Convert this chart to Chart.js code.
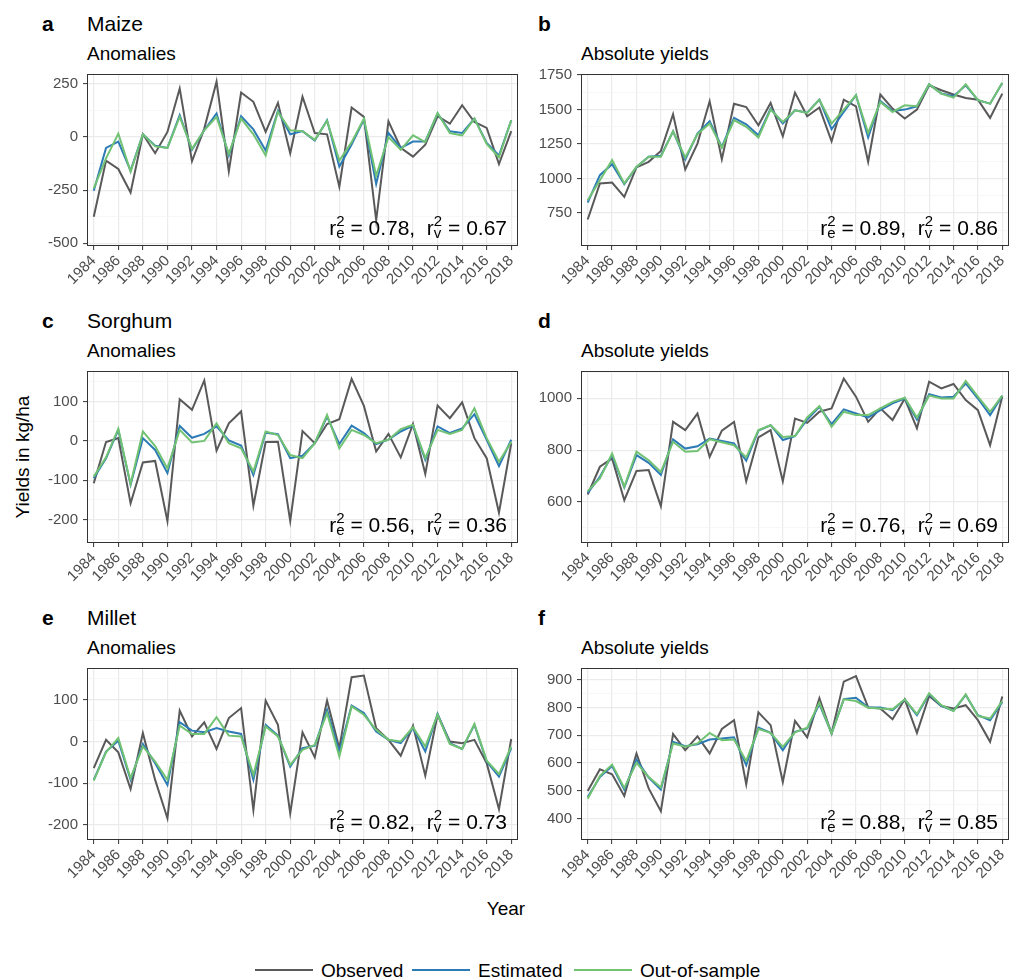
<!DOCTYPE html>
<html>
<head>
<meta charset="utf-8">
<title>Yields</title>
<script src="https://cdn.jsdelivr.net/npm/chart.js@4.4.1/dist/chart.umd.min.js"></script>
<style>
  html, body { margin: 0; padding: 0; background: #fff; }
  #page { position: relative; width: 1013px; height: 979px; overflow: hidden;
          font-family: "Liberation Sans", Arial, sans-serif; color: #000; }
  #page canvas { position: absolute; }
  .txt { position: absolute; white-space: nowrap; line-height: 1; }
  .tag { font-size: 21px; font-weight: bold; }
  .crop { font-size: 21px; }
  .sub { font-size: 19px; }
  .axis { font-size: 19px; }
  .leg { font-size: 19px; }
  .key { position: absolute; height: 2px; }
</style>
</head>
<body>
<div id="page">
  <div class="txt tag" style="left:42px;top:13px">a</div>
  <div class="txt crop" style="left:87px;top:13px">Maize</div>
  <div class="txt sub" style="left:87px;top:44px">Anomalies</div>
  <div class="txt tag" style="left:538px;top:13px">b</div>
  <div class="txt sub" style="left:581px;top:44px">Absolute yields</div>

  <div class="txt tag" style="left:42px;top:310px">c</div>
  <div class="txt crop" style="left:87px;top:310px">Sorghum</div>
  <div class="txt sub" style="left:87px;top:341px">Anomalies</div>
  <div class="txt tag" style="left:538px;top:310px">d</div>
  <div class="txt sub" style="left:581px;top:341px">Absolute yields</div>

  <div class="txt tag" style="left:42px;top:607px">e</div>
  <div class="txt crop" style="left:87px;top:607px">Millet</div>
  <div class="txt sub" style="left:87px;top:638px">Anomalies</div>
  <div class="txt tag" style="left:538px;top:607px">f</div>
  <div class="txt sub" style="left:581px;top:638px">Absolute yields</div>

  <div class="txt axis" style="left:22px;top:457px;transform:translate(-50%,-50%) rotate(-90deg)">Yields in kg/ha</div>
  <div class="txt axis" style="left:506px;top:899px;transform:translateX(-50%)">Year</div>

  <div class="key" style="left:255px;top:969px;width:58px;background:#595959"></div>
  <div class="txt leg" style="left:321px;top:961px">Observed</div>
  <div class="key" style="left:412px;top:969px;width:58px;background:#2c7bb6"></div>
  <div class="txt leg" style="left:478px;top:961px">Estimated</div>
  <div class="key" style="left:574px;top:969px;width:58px;background:#72c273"></div>
  <div class="txt leg" style="left:640px;top:961px">Out-of-sample</div>
</div>
<script>
// ---- data ----
const years = [1984, 1985, 1986, 1987, 1988, 1989, 1990, 1991, 1992, 1993, 1994, 1995,
  1996, 1997, 1998, 1999, 2000, 2001, 2002, 2003, 2004, 2005, 2006, 2007, 2008, 2009,
  2010, 2011, 2012, 2013, 2014, 2015, 2016, 2017, 2018];
const yearTicks = [1984, 1986, 1988, 1990, 1992, 1994, 1996, 1998, 2000, 2002, 2004,
  2006, 2008, 2010, 2012, 2014, 2016, 2018];
const seriesNames = ["Observed", "Estimated", "Out-of-sample"];

const maizeAnomObserved = [-375, -111, -150, -261, 13, -76, 24, 229, -114, 40, 261, -161, 210, 166, 24, 161, -76, 190, 19, 13, -234, 139, 95, -392, 74, -51, -92, -36, 98, 63, 150, 71, 43, -127, 28];
const maizeAnomEstimated = [-253, -51, -21, -158, 13, -41, -51, 103, -60, 32, 111, -87, 98, 36, -63, 123, 13, 28, -16, 79, -139, -35, 82, -221, 19, -51, -21, -21, 111, 27, 19, 87, -28, -87, 79];
const maizeAnomOutOfSample = [-242, -100, 16, -163, 13, -44, -51, 95, -55, 32, 95, -79, 87, 13, -87, 119, 32, 28, -13, 76, -111, -24, 87, -182, 0, -60, 8, -24, 114, 19, 8, 87, -32, -95, 79];

const maizeAbsObserved = [703, 964, 971, 867, 1080, 1121, 1200, 1465, 1065, 1253, 1559, 1140, 1542, 1518, 1386, 1547, 1306, 1622, 1451, 1514, 1270, 1571, 1523, 1121, 1608, 1506, 1434, 1499, 1675, 1639, 1608, 1583, 1571, 1439, 1615];
const maizeAbsEstimated = [826, 1024, 1104, 959, 1084, 1157, 1164, 1342, 1137, 1325, 1415, 1229, 1439, 1393, 1313, 1506, 1398, 1494, 1477, 1571, 1357, 1482, 1603, 1297, 1562, 1489, 1499, 1523, 1682, 1615, 1596, 1675, 1567, 1542, 1692];
const maizeAbsOutOfSample = [843, 988, 1133, 964, 1084, 1157, 1157, 1342, 1152, 1321, 1398, 1224, 1422, 1374, 1297, 1499, 1410, 1494, 1475, 1571, 1398, 1499, 1603, 1330, 1555, 1482, 1530, 1523, 1682, 1615, 1586, 1682, 1567, 1542, 1694];

const sorghumAnomObserved = [-108, -3, 7, -159, -55, -51, -204, 106, 79, 154, -25, 45, 75, -165, -3, -2, -204, 25, -6, 43, 55, 158, 89, -27, 18, -42, 43, -84, 90, 58, 98, 7, -44, -183, -6];
const sorghumAnomEstimated = [-95, -44, 28, -112, 7, -23, -82, 38, 8, 18, 37, 1, -12, -87, 21, 17, -44, -38, -6, 62, -8, 39, 20, -8, 3, 24, 39, -48, 37, 20, 32, 68, 3, -64, 3];
const sorghumAnomOutOfSample = [-91, -42, 31, -110, 24, -13, -70, 28, -4, 0, 45, -6, -19, -78, 24, 15, -36, -44, -6, 66, -19, 28, 15, -6, 3, 30, 41, -44, 28, 18, 28, 83, 7, -53, -2];

const sorghumAbsObserved = [629, 736, 768, 607, 720, 723, 584, 909, 877, 941, 774, 875, 909, 680, 849, 877, 680, 922, 905, 948, 961, 1076, 1006, 909, 961, 916, 999, 884, 1064, 1038, 1055, 993, 954, 819, 1008];
const sorghumAbsEstimated = [635, 697, 781, 656, 781, 751, 704, 841, 806, 815, 845, 835, 826, 759, 875, 896, 839, 854, 918, 967, 900, 957, 941, 926, 954, 980, 999, 918, 1016, 1003, 1006, 1057, 999, 935, 1010];
const sorghumAbsOutOfSample = [642, 691, 787, 659, 794, 761, 716, 832, 794, 797, 842, 830, 819, 772, 877, 896, 851, 854, 926, 970, 890, 948, 935, 935, 961, 986, 1002, 926, 1010, 999, 999, 1067, 1006, 948, 1010];

const milletAnomObserved = [-64, 4, -26, -114, 20, -92, -184, 74, 12, 46, -18, 56, 80, -164, 98, 40, -172, 22, -38, 98, -16, 154, 158, 32, 4, -34, 38, -82, 64, 0, -4, 4, -52, -162, 6];
const milletAnomEstimated = [-92, -24, 2, -92, -6, -52, -104, 46, 26, 22, 32, 24, 18, -92, 40, 14, -60, -16, -10, 76, -24, 86, 68, 24, 4, -4, 32, -24, 66, -4, -18, 40, -48, -84, -16];
const milletAnomOutOfSample = [-94, -26, 8, -88, -12, -48, -92, 38, 18, 18, 58, 14, 12, -80, 36, 12, -56, -20, -8, 68, -36, 84, 64, 28, 4, 0, 34, -12, 64, -6, -18, 42, -46, -78, -12];

const milletAbsObserved = [499, 577, 559, 481, 634, 508, 426, 704, 646, 696, 634, 722, 754, 523, 782, 736, 531, 751, 692, 833, 706, 893, 913, 800, 796, 757, 829, 708, 841, 805, 796, 808, 754, 676, 839];
const milletAbsEstimated = [477, 549, 589, 504, 612, 547, 504, 676, 660, 667, 684, 688, 692, 592, 727, 708, 646, 712, 724, 812, 706, 830, 835, 800, 800, 790, 829, 772, 848, 805, 788, 845, 772, 754, 820];
const milletAbsOutOfSample = [471, 553, 594, 510, 600, 549, 511, 670, 658, 670, 708, 682, 684, 607, 722, 708, 658, 710, 727, 817, 706, 829, 823, 799, 796, 793, 829, 776, 851, 808, 787, 847, 769, 760, 823];

const maizeAnomTicks = [-500, -250, 0, 250];
const maizeAbsTicks = [750, 1000, 1250, 1500, 1750];
const sorghumAnomTicks = [-200, -100, 0, 100];
const sorghumAbsTicks = [600, 800, 1000];
const milletAnomTicks = [-200, -100, 0, 100];
const milletAbsTicks = [400, 500, 600, 700, 800, 900];

const r2Estimated = ["0.78", "0.89", "0.56", "0.76", "0.82", "0.88"];
const r2Validated = ["0.67", "0.86", "0.36", "0.69", "0.73", "0.85"];

// ---- layout / style ----
const seriesColors = ["#595959", "#2c7bb6", "#72c273"];
const COL_X = [87, 581], COL_W = [431, 428], ROW_Y = [74, 371, 668], PH = 172;
const Y_W = 60, X_H = 52, PAD_T = 16, PAD_R = 16;
const FONT = '"Liberation Sans", Arial, sans-serif';

Chart.defaults.font.family = FONT;

const panels = [
  { col: 0, row: 0, min: -513, max: 297, ticks: maizeAnomTicks, data: [maizeAnomObserved, maizeAnomEstimated, maizeAnomOutOfSample] },
  { col: 1, row: 0, min: 511, max: 1757, ticks: maizeAbsTicks, data: [maizeAbsObserved, maizeAbsEstimated, maizeAbsOutOfSample] },
  { col: 0, row: 1, min: -260, max: 178, ticks: sorghumAnomTicks, data: [sorghumAnomObserved, sorghumAnomEstimated, sorghumAnomOutOfSample] },
  { col: 1, row: 1, min: 442, max: 1105, ticks: sorghumAbsTicks, data: [sorghumAbsObserved, sorghumAbsEstimated, sorghumAbsOutOfSample] },
  { col: 0, row: 2, min: -236, max: 176, ticks: milletAnomTicks, data: [milletAnomObserved, milletAnomEstimated, milletAnomOutOfSample] },
  { col: 1, row: 2, min: 322, max: 942, ticks: milletAbsTicks, data: [milletAbsObserved, milletAbsEstimated, milletAbsOutOfSample] },
];

// frame round the panel + r2 note in the lower right corner
const panelFrame = {
  id: "panelFrame",
  afterDatasetsDraw(chart, args, opts) {
    const { ctx, chartArea: a } = chart;
    ctx.save();
    ctx.strokeStyle = "#333333";
    ctx.lineWidth = 1;
    ctx.strokeRect(Math.round(a.left) + 0.5, Math.round(a.top) + 0.5,
      Math.round(a.right - a.left) - 1, Math.round(a.bottom - a.top) - 1);

    const big = "21px " + FONT, small = "15px " + FONT;
    const parts = [
      { t: "r", f: big },
      { sup: "2", sub: "e" },
      { t: " = " + opts.e + ",  r", f: big },
      { sup: "2", sub: "v" },
      { t: " = " + opts.v, f: big },
    ];
    let total = 0;
    parts.forEach(p => {
      if (p.t) { ctx.font = p.f; p.w = ctx.measureText(p.t).width; }
      else { ctx.font = small; p.w = Math.max(ctx.measureText(p.sup).width, ctx.measureText(p.sub).width); }
      total += p.w;
    });
    let x = a.right - 11 - total;
    const base = a.bottom - 11;
    ctx.fillStyle = "#000";
    ctx.textBaseline = "alphabetic";
    ctx.textAlign = "left";
    parts.forEach(p => {
      if (p.t) { ctx.font = p.f; ctx.fillText(p.t, x, base); }
      else {
        ctx.font = small;
        ctx.fillText(p.sup, x, base - 9);
        ctx.fillText(p.sub, x, base + 3);
      }
      x += p.w;
    });
    ctx.restore();
  }
};

const page = document.getElementById("page");

panels.forEach((p, idx) => {
  const left = COL_X[p.col], top = ROW_Y[p.row], w = COL_W[p.col];
  const cv = document.createElement("canvas");
  cv.width = Y_W + w + PAD_R;
  cv.height = PAD_T + PH + X_H;
  cv.style.left = (left - Y_W) + "px";
  cv.style.top = (top - PAD_T) + "px";
  page.appendChild(cv);

  const majors = p.ticks;
  const step = majors[1] - majors[0];
  const ext = [majors[0] - step, ...majors, majors[majors.length - 1] + step];
  const minors = ext.slice(0, -1).map(v => v + step / 2).filter(v => v > p.min && v < p.max);
  const allTicks = [...majors, ...minors].sort((m, n) => m - n);
  const isMajor = v => majors.includes(v);

  new Chart(cv, {
    type: "line",
    data: {
      datasets: p.data.map((vals, i) => ({
        label: seriesNames[i],
        data: years.map((yr, k) => ({ x: yr, y: vals[k] })),
        borderColor: seriesColors[i],
        borderWidth: 2,
        pointRadius: 0,
        tension: 0,
        fill: false,
        order: 3 - i,
      })),
    },
    options: {
      responsive: false,
      animation: false,
      devicePixelRatio: 1,
      layout: { padding: { top: PAD_T, right: PAD_R, left: 0, bottom: 0 } },
      plugins: {
        legend: { display: false },
        tooltip: { enabled: false },
        panelFrame: { e: r2Estimated[idx], v: r2Validated[idx] },
      },
      scales: {
        x: {
          type: "linear",
          min: 1983.45,
          max: 2018.55,
          afterBuildTicks: s => { s.ticks = yearTicks.map(v => ({ value: v })); },
          afterFit: s => { s.height = X_H; },
          border: { display: false },
          grid: { color: "#ebebeb", lineWidth: 1.2, tickColor: "#333333", tickWidth: 1, tickLength: 4 },
          ticks: {
            autoSkip: false, minRotation: 45, maxRotation: 45, padding: 2,
            color: "#4d4d4d", font: { size: 15 },
            callback: v => String(v),
          },
        },
        y: {
          type: "linear",
          min: p.min,
          max: p.max,
          afterBuildTicks: s => { s.ticks = allTicks.map(v => ({ value: v })); },
          afterFit: s => { s.width = Y_W; },
          border: { display: false },
          grid: {
            color: c => isMajor(c.tick.value) ? "#ebebeb" : "#f3f3f3",
            lineWidth: c => isMajor(c.tick.value) ? 1.2 : 0.7,
            tickColor: c => isMajor(c.tick.value) ? "#333333" : "rgba(0,0,0,0)",
            tickWidth: 1,
            tickLength: 4,
          },
          ticks: {
            autoSkip: false, padding: 5,
            color: "#4d4d4d", font: { size: 15 },
            callback: v => isMajor(v) ? String(v) : "",
          },
        },
      },
    },
    plugins: [panelFrame],
  });
});
</script>
</body>
</html>
